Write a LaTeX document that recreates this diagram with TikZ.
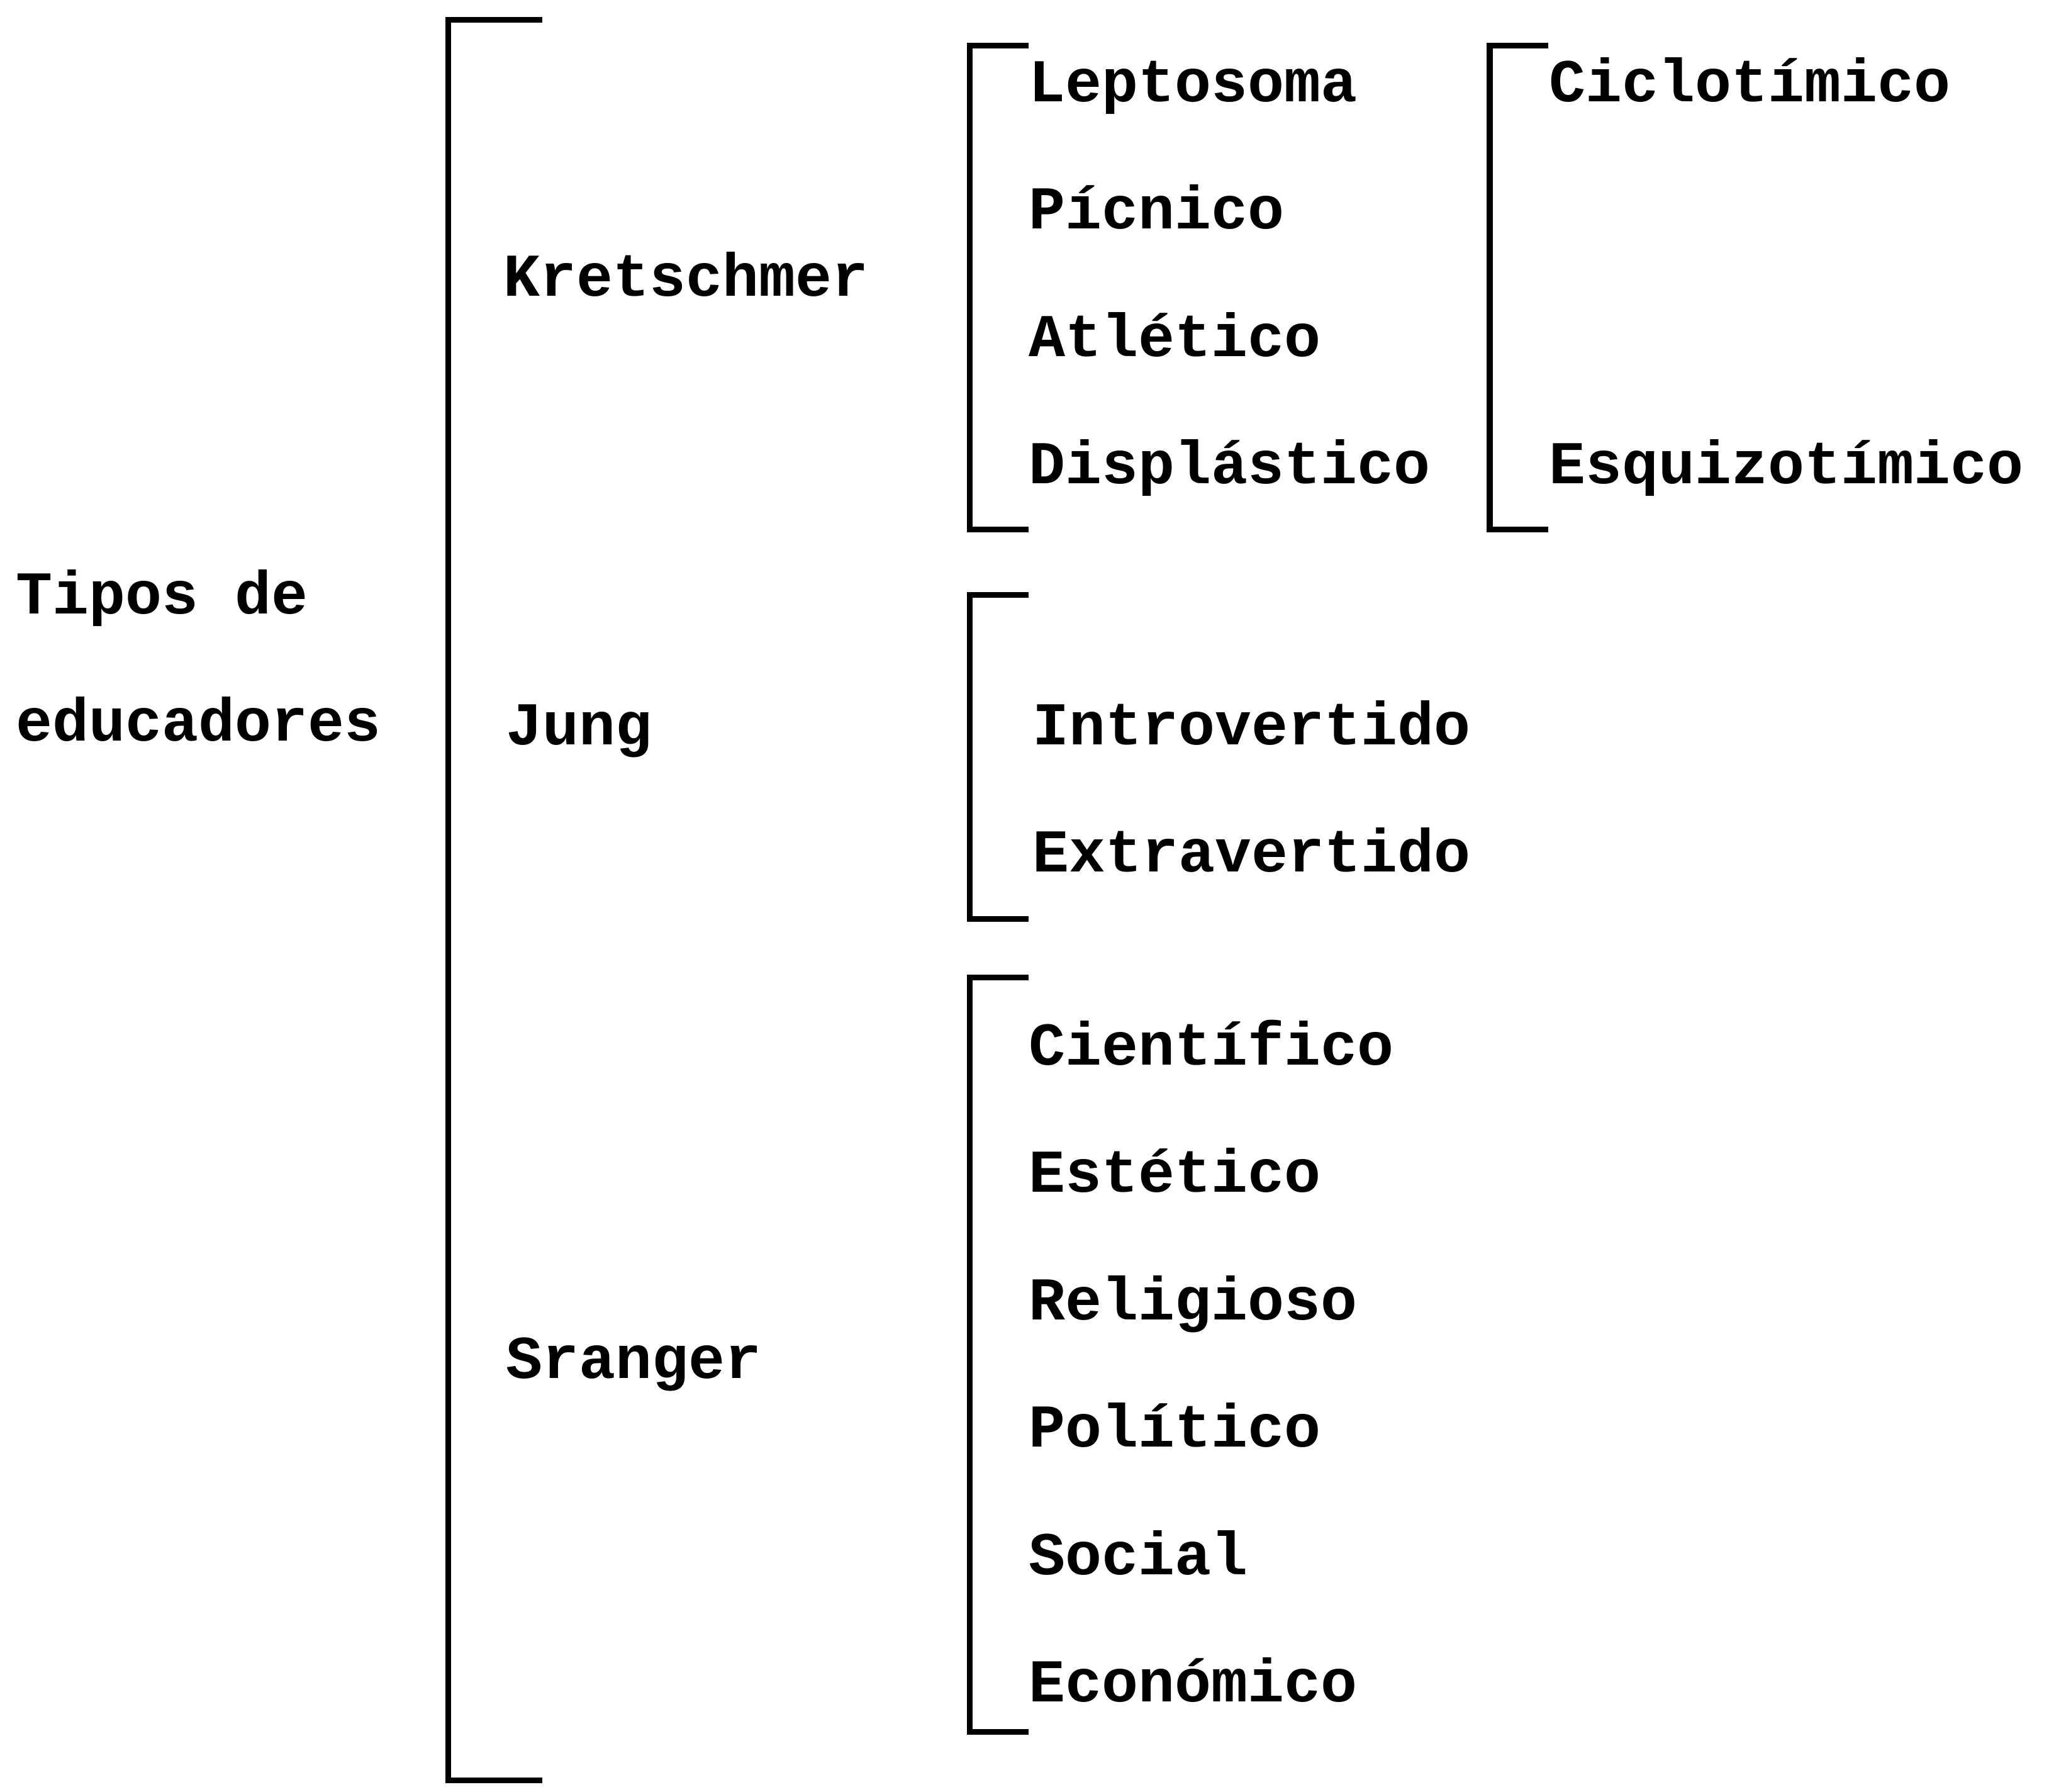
\documentclass[tikz,border=0pt]{standalone}
\usepackage{fontspec}
\setmonofont{Liberation Mono}
\usetikzlibrary{positioning}
\tikzset{
     item/.style={font=\ttfamily\bfseries\fontsize{27.5}{33}\selectfont, inner sep=0pt, anchor=west, text height=0.66em, text depth=0pt},
     bracket/.style = {black, line width=2.6pt, line join=miter},
    }

\begin{document}
\begin{tikzpicture}[x=0.2077mm, y=-0.2077mm, node distance=20.25mm, on grid]
        \useasboundingbox (0,0) rectangle (1568,1371);

        \node [item] (tipos) at (12,464)                          {Tipos de};
        \node [item, below=of tipos.west, anchor=west] (educ)     {educadores};

        \node [item] (kret) at (385,221)                          {Kretschmer};
        \node [item] (jung) at (387,564)                          {Jung};
        \node [item] (sran) at (387,1049)                         {Sranger};

        \node [item] (lepto) at (787,72)                          {Leptosoma};
        \node [item, below=of lepto.west, anchor=west] (picn)     {Pícnico};
        \node [item, below=of picn.west, anchor=west] (atle)      {Atlético};
        \node [item, below=of atle.west, anchor=west] (displ)     {Displástico};

        \node [item] (ciclo) at (1185,72)                         {Ciclotímico};
        \node [item] (esqui) at (ciclo.west |- displ.west)        {Esquizotímico};

        \node [item] (intro) at (790,564)                         {Introvertido};
        \node [item, below=of intro.west, anchor=west] (extra)    {Extravertido};

        \node [item] (cient) at (787,809)                         {Científico};
        \node [item, below=of cient.west, anchor=west] (este)     {Estético};
        \node [item, below=of este.west, anchor=west] (reli)      {Religioso};
        \node [item, below=of reli.west, anchor=west] (poli)      {Político};
        \node [item, below=of poli.west, anchor=west] (soci)      {Social};
        \node [item, below=of soci.west, anchor=west] (econ)      {Económico};

        % brackets
        \draw [bracket] (415,15) -- (343,15) -- (343,1362) -- (415,1362);
        \draw [bracket] (787,35) -- (742,35) -- (742,405) -- (787,405);
        \draw [bracket] (1185,35) -- (1140,35) -- (1140,405) -- (1185,405);
        \draw [bracket] (787,455) -- (742,455) -- (742,703) -- (787,703);
        \draw [bracket] (787,748) -- (742,748) -- (742,1325) -- (787,1325);
    \end{tikzpicture}
\end{document}
